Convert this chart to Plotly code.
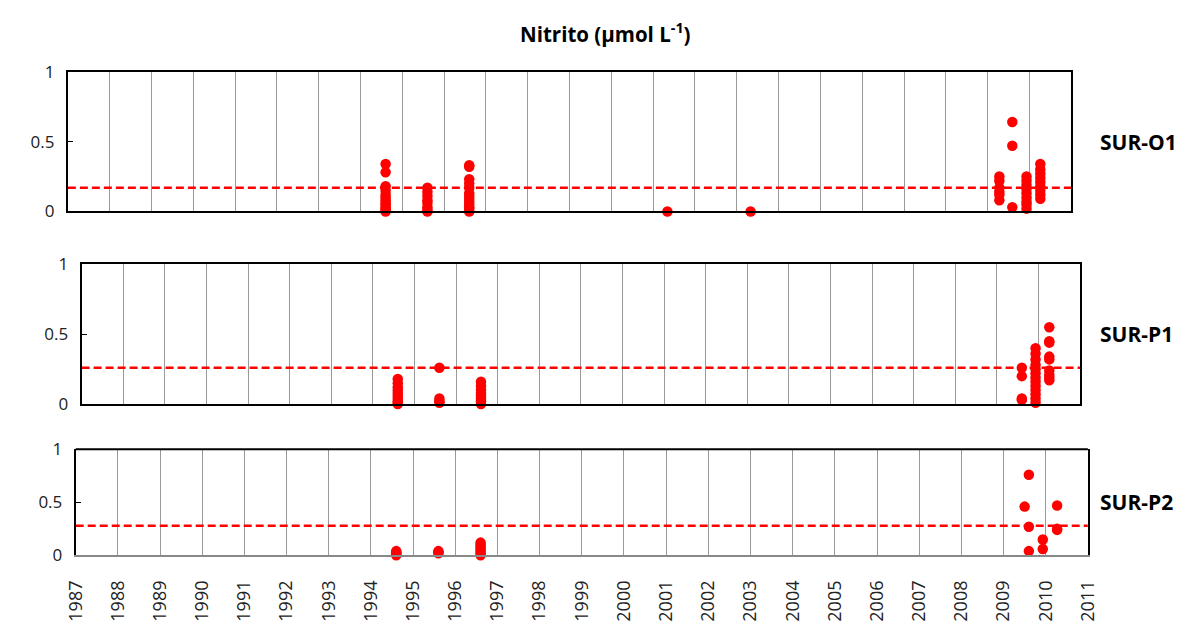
import plotly.graph_objects as go

# ---------------- data ----------------
years = list(range(1987, 2012))
year_labels = [str(y) for y in years]

# SUR-O1
o1_x = ([1994.6]*13 + [1995.6]*8 + [1996.6]*13 + [2001.34] + [2003.33] +
        [2009.28]*6 + [2009.59]*3 + [2009.93]*9 + [2010.26]*9)
o1_y = ([0.34, 0.28, 0.18, 0.15, 0.12, 0.10, 0.08, 0.06, 0.05, 0.03, 0.02, 0.01, 0.0] +
        [0.17, 0.14, 0.11, 0.08, 0.06, 0.03, 0.01, 0.0] +
        [0.33, 0.32, 0.23, 0.20, 0.17, 0.13, 0.11, 0.09, 0.07, 0.05, 0.03, 0.02, 0.0] +
        [0.0] + [0.0] +
        [0.25, 0.22, 0.17, 0.14, 0.12, 0.08] +
        [0.64, 0.47, 0.03] +
        [0.25, 0.22, 0.19, 0.16, 0.13, 0.10, 0.07, 0.05, 0.02] +
        [0.34, 0.30, 0.27, 0.24, 0.21, 0.18, 0.15, 0.12, 0.09])
o1_ref = 0.17

# SUR-P1
p1_x = ([1994.6]*10 + [1995.6]*4 + [1996.6]*8 +
        [2009.6]*4 + [2009.93]*13 + [2010.26]*9)
p1_y = ([0.18, 0.15, 0.12, 0.10, 0.08, 0.06, 0.04, 0.02, 0.01, 0.0] +
        [0.26, 0.04, 0.02, 0.01] +
        [0.16, 0.13, 0.10, 0.08, 0.06, 0.04, 0.02, 0.0] +
        [0.26, 0.20, 0.04, 0.03] +
        [0.40, 0.36, 0.32, 0.28, 0.25, 0.22, 0.19, 0.16, 0.13, 0.10, 0.07, 0.04, 0.01] +
        [0.55, 0.45, 0.44, 0.34, 0.32, 0.24, 0.21, 0.19, 0.17])
p1_ref = 0.26

# SUR-P2
p2_x = ([1994.6]*5 + [1995.6]*3 + [1996.6]*7 +
        [2009.5] + [2009.6]*3 + [2009.93]*2 + [2010.27]*3)
p2_y = ([0.04, 0.03, 0.02, 0.01, 0.0] +
        [0.04, 0.03, 0.02] +
        [0.12, 0.10, 0.08, 0.06, 0.04, 0.02, 0.0] +
        [0.46] + [0.76, 0.27, 0.04] + [0.15, 0.06] + [0.47, 0.25, 0.24])
p2_ref = 0.28

panels = [
    ("SUR-O1", o1_x, o1_y, o1_ref),
    ("SUR-P1", p1_x, p1_y, p1_ref),
    ("SUR-P2", p2_x, p2_y, p2_ref),
]

# ---------------- layout geometry (pixels) ----------------
W, H = 1192, 628
# (left, right, top, bottom)
boxes = [(56, 1080, 62, 207), (70, 1089, 262, 407), (64, 1097, 454, 564)]

fig = go.Figure()
FONT = "'Open Sans', Lato, sans-serif"

for i, ((name, xs, ys, ref), (l, r, t, b)) in enumerate(zip(panels, boxes)):
    sfx = "" if i == 0 else str(i + 1)
    xa, ya = "x" + sfx, "y" + sfx
    last = (i == 2)
    # reference dashed line
    fig.add_trace(go.Scatter(
        x=[years[0], years[-1]], y=[ref, ref], mode="lines",
        line=dict(color="#ff0000", width=2.5, dash="8px,4px"),
        xaxis=xa, yaxis=ya, showlegend=False, hoverinfo="skip"))
    fig.add_trace(go.Scatter(
        x=xs, y=ys, mode="markers", cliponaxis=False,
        marker=dict(color="#ff0000", size=10.5, line=dict(width=0)),
        xaxis=xa, yaxis=ya, showlegend=False, name=name))

    xkey = "xaxis" + sfx
    ykey = "yaxis" + sfx
    fig.layout[xkey] = dict(
        domain=[l / W, r / W], anchor=ya, range=[years[0], years[-1]],
        tickmode="array", tickvals=years, ticktext=year_labels,
        showticklabels=last, tickangle=-90,
        tickfont=dict(family=FONT, size=18, color="#222"),
        showgrid=True, gridcolor="#9a9a9a", gridwidth=1.2,
        showline=True, linecolor="#888888" if last else "black",
        linewidth=2, mirror=not last,
        ticks="", zeroline=False, fixedrange=True, ticklabelstandoff=16)
    fig.layout[ykey] = dict(
        domain=[1 - b / H, 1 - t / H], anchor=xa, range=[0, 1],
        tickmode="array", tickvals=[0, 0.5, 1], ticktext=["0", "0.5", "1"],
        tickfont=dict(family=FONT, size=17, color="#222"),
        ticks="inside", ticklen=5, tickcolor="black",
        showgrid=False, zeroline=False,
        showline=True, linecolor="black", linewidth=2, mirror=True,
        ticklabelstandoff=8, fixedrange=True)
    if last:
        fig.add_shape(type="line", xref=xa + " domain", yref=ya + " domain",
                      x0=0, x1=1, y0=1, y1=1, line=dict(color="black", width=2))
    fig.add_annotation(
        x=1107 / W, y=1 - ((t + b) / 2) / H, xref="paper", yref="paper",
        text="<b>%s</b>" % name, showarrow=False, xanchor="left", yanchor="middle",
        font=dict(family=FONT, size=21, color="black"))

fig.add_annotation(
    x=605 / W, y=1 - 22 / H, xref="paper", yref="paper",
    text="<b>Nitrito (µmol L<sup>-1</sup>)</b>", showarrow=False,
    xanchor="center", yanchor="middle",
    font=dict(family=FONT, size=20.5, color="black"))

fig.update_layout(
    width=W, height=H, margin=dict(l=0, r=0, t=0, b=0),
    paper_bgcolor="white", plot_bgcolor="white",
)

fig.write_html("out.html")
